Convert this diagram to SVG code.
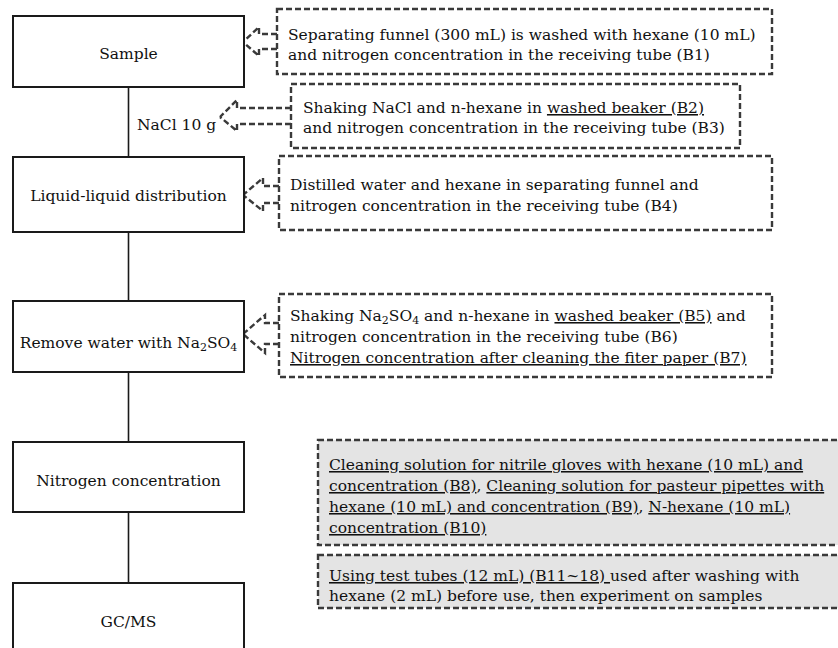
<svg xmlns="http://www.w3.org/2000/svg" width="838" height="648" viewBox="0 0 838 648">
<style>
text{font-family:"DejaVu Serif","Liberation Serif",serif;font-size:15.5px;fill:#111}
.c{text-anchor:middle}
.u{text-decoration:underline}
.node{fill:#fff;stroke:#1a1a1a;stroke-width:2}
.note{fill:#fff;stroke:#3a3a3a;stroke-width:2.4;stroke-dasharray:6 3}
.gray{fill:#e4e4e4;stroke:#3a3a3a;stroke-width:2.4;stroke-dasharray:6 3}
.link{stroke:#1a1a1a;stroke-width:1.6;fill:none}
.arr{stroke:#3a3a3a;stroke-width:2.4;stroke-dasharray:6 3;fill:none}
</style>
<rect width="838" height="648" fill="#fff"/>
<g id="connectors">
<line class="link" x1="128.5" y1="87" x2="128.5" y2="157"/>
<line class="link" x1="128.5" y1="232" x2="128.5" y2="301"/>
<line class="link" x1="128.5" y1="372" x2="128.5" y2="442"/>
<line class="link" x1="128.5" y1="512" x2="128.5" y2="583"/>
<path class="arr" d="M277,34 H259 V27 L243,42 M277,49 H259 V56 L243,42"/>
<path class="arr" d="M291,108 H237 V100 L220,117 M291,124 H237 V131 L220,117"/>
<path class="arr" d="M279,186 H263 V178 L243,195 M279,203 H263 V211 L243,195"/>
<path class="arr" d="M279,323 H265 V315 L243,334 M279,344 H265 V353 L243,334"/>
</g>
<g id="sample">
<rect class="node" x="13" y="16" width="231" height="71"/>
<text class="c" x="128.5" y="59">Sample</text>
</g>
<g id="nacl">
<text x="137" y="130">NaCl 10 g</text>
</g>
<g id="liquid">
<rect class="node" x="13" y="157" width="231" height="75"/>
<text class="c" x="128.5" y="201">Liquid-liquid distribution</text>
</g>
<g id="remove">
<rect class="node" x="13" y="301" width="231" height="71"/>
<text class="c" x="128.5" y="348">Remove water with Na<tspan dy="3" font-size="11">2</tspan><tspan dy="-3">SO</tspan><tspan dy="3" font-size="11">4</tspan></text>
</g>
<g id="nitrogen">
<rect class="node" x="13" y="442" width="231" height="70"/>
<text class="c" x="128.5" y="486">Nitrogen concentration</text>
</g>
<g id="gcms">
<rect class="node" x="13" y="583" width="231" height="80"/>
<text class="c" x="128.5" y="627">GC/MS</text>
</g>
<g id="note-b1">
<rect class="note" x="277" y="9" width="495" height="65"/>
<text x="288" y="40">Separating funnel (300 mL) is washed with hexane (10 mL)</text>
<text x="288" y="60">and nitrogen concentration in the receiving tube (B1)</text>
</g>
<g id="note-b2">
<rect class="note" x="291" y="84" width="449" height="64"/>
<text x="303" y="113">Shaking NaCl and n-hexane in <tspan class="u">washed beaker (B2)</tspan></text>
<text x="303" y="133">and nitrogen concentration in the receiving tube (B3)</text>
</g>
<g id="note-b4">
<rect class="note" x="279" y="156" width="493" height="74"/>
<text x="290" y="190">Distilled water and hexane in separating funnel and</text>
<text x="290" y="211">nitrogen concentration in the receiving tube (B4)</text>
</g>
<g id="note-b5">
<rect class="note" x="279" y="294" width="493" height="83"/>
<text x="290" y="321">Shaking Na<tspan dy="3" font-size="11">2</tspan><tspan dy="-3">SO</tspan><tspan dy="3" font-size="11">4</tspan><tspan dy="-3"> and n-hexane in </tspan><tspan class="u">washed beaker (B5)</tspan> and</text>
<text x="290" y="342">nitrogen concentration in the receiving tube (B6)</text>
<text x="290" y="363" class="u">Nitrogen concentration after cleaning the fiter paper (B7)</text>
</g>
<g id="note-b8">
<rect class="gray" x="318" y="440" width="530" height="105"/>
<text x="329" y="470" class="u">Cleaning solution for nitrile gloves with hexane (10 mL) and</text>
<text x="329" y="491"><tspan class="u">concentration (B8)</tspan>, <tspan class="u">Cleaning solution for pasteur pipettes with</tspan></text>
<text x="329" y="512"><tspan class="u">hexane (10 mL) and concentration (B9)</tspan>, <tspan class="u">N-hexane (10 mL)</tspan></text>
<text x="329" y="533" class="u">concentration (B10)</text>
</g>
<g id="note-b11">
<rect class="gray" x="318" y="555" width="530" height="53"/>
<text x="329" y="581"><tspan class="u">Using test tubes (12 mL) (B11~18) </tspan>used after washing with</text>
<text x="329" y="601">hexane (2 mL) before use, then experiment on samples</text>
</g>
</svg>
